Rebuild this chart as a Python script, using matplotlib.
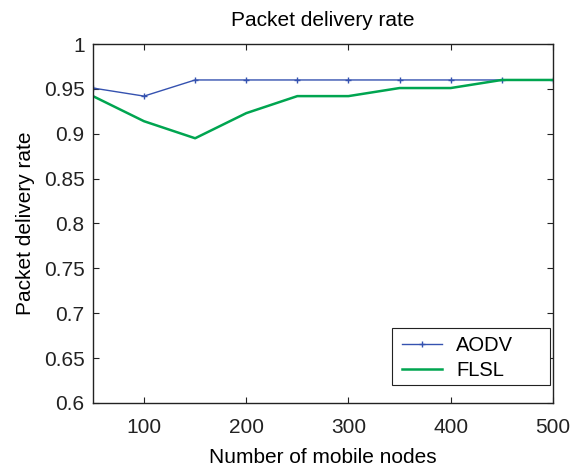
import matplotlib
matplotlib.use('Agg')
import matplotlib.pyplot as plt
from matplotlib.patches import Rectangle

# number of mobile nodes
nodes = [50, 100, 150, 200, 250, 300, 350, 400, 450, 500]
aodv = [0.951, 0.942, 0.960, 0.960, 0.960, 0.960, 0.960, 0.960, 0.960, 0.960]
flsl = [0.942, 0.914, 0.895, 0.923, 0.942, 0.942, 0.951, 0.951, 0.960, 0.960]

xticks = [100, 200, 300, 400, 500]
yticks = [0.6, 0.65, 0.7, 0.75, 0.8, 0.85, 0.9, 0.95, 1.0]
ytick_labels = ['0.6', '0.65', '0.7', '0.75', '0.8', '0.85', '0.9', '0.95', '1']

plt.rcParams['font.family'] = ['Liberation Sans', 'DejaVu Sans']
plt.rcParams['font.size'] = 15

fig = plt.figure(figsize=(5.7, 4.69), dpi=100)
ax = fig.add_axes([0.163, 0.141, 0.807, 0.765])

ax.plot(nodes, aodv, color='#3552b0', lw=1.0, marker='+', ms=5, mew=1.0, label='AODV')
ax.plot(nodes, flsl, color='#00a550', lw=1.8, label='FLSL')

ax.set_xlim(50, 500)
ax.set_ylim(0.6, 1.0)
ax.set_xticks(xticks)
ax.set_yticks(yticks)
ax.set_yticklabels(ytick_labels)
ax.tick_params(direction='in', top=True, right=True, length=4, width=0.8,
               colors='#222222', labelcolor='#222222', labelsize=15)
ax.tick_params(axis='x', pad=11)
ax.tick_params(axis='y', pad=6)
for s in ax.spines.values():
    s.set_linewidth(1.0)
    s.set_color('#222222')

ax.set_title('Packet delivery rate', fontsize=15, pad=13)
ax.set_xlabel('Number of mobile nodes', fontsize=15, labelpad=8)
ax.set_ylabel('Packet delivery rate', fontsize=15, labelpad=6)

# matlab style legend box: wide frame, entries on the left
ax.add_patch(Rectangle((0.65, 0.05), 0.343, 0.159, transform=ax.transAxes,
                       facecolor='white', edgecolor='#222222', lw=0.8, zorder=4))
leg = ax.legend(loc='upper left', bbox_to_anchor=(0.672, 0.186), frameon=False,
                fontsize=14.5, handlelength=2.0, borderpad=0, labelspacing=0.3,
                handletextpad=0.7, borderaxespad=0)
leg.set_zorder(5)

fig.savefig('out.png', dpi=100)
